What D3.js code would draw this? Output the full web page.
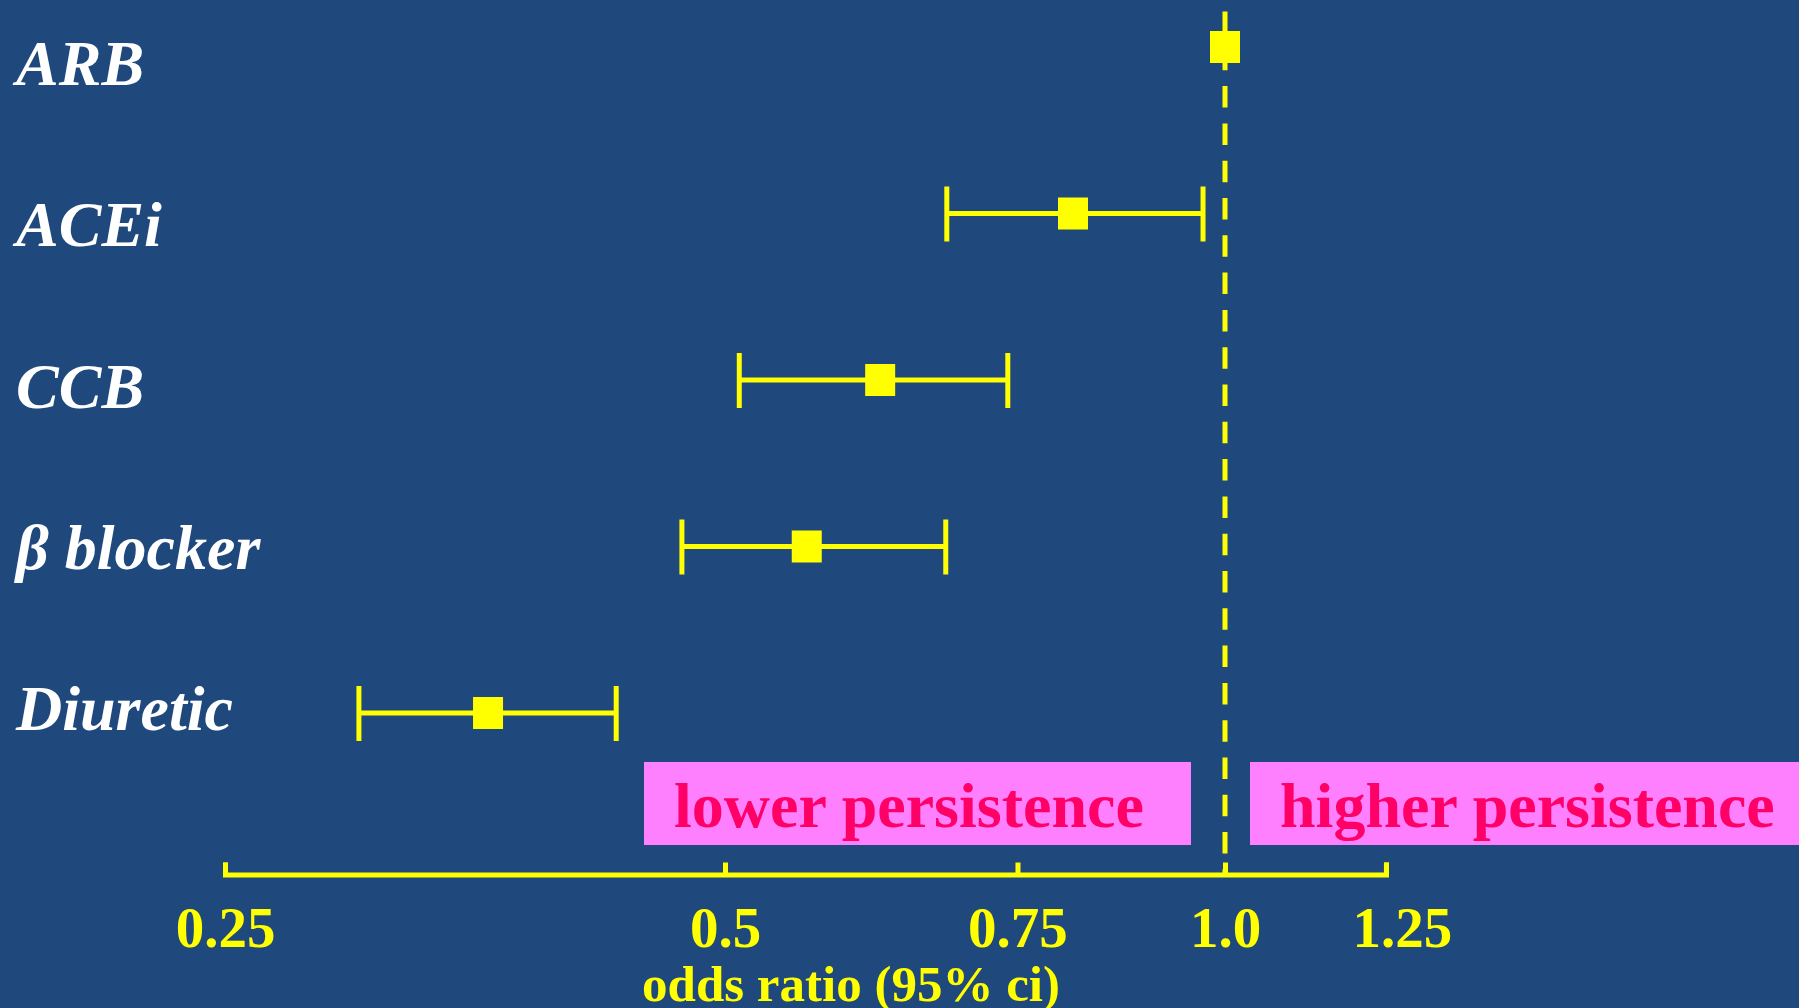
<!DOCTYPE html>
<html>
<head>
<meta charset="utf-8">
<script src="https://cdn.jsdelivr.net/npm/d3@7"></script>
<style>
  html, body { margin: 0; padding: 0; background: #1f497d; overflow: hidden; }
  svg { display: block; }
</style>
</head>
<body>
<svg id="chart" width="1799" height="1008"></svg>
<script>
// drug classes, top to bottom
var drugs = ["ARB", "ACEi", "CCB", "\u03b2 blocker", "Diuretic"];
// odds ratio and 95% ci (ARB is the reference)
var oddsRatio = [1.0, 0.81, 0.62, 0.56, 0.36];
var ciLow = [null, 0.68, 0.51, 0.471, 0.301];
var ciHigh = [null, 0.97, 0.74, 0.679, 0.43];
var tickValues = [0.25, 0.5, 0.75, 1.0, 1.25];
var tickLabels = ["0.25", "0.5", "0.75", "1.0", "1.25"];

var rows = drugs.map(function (d, i) {
    return { drug: d, or: oddsRatio[i], lo: ciLow[i], hi: ciHigh[i] };
});

var svg = d3.select("#chart");
var yellow = "#ffff00";
var serif = "'Liberation Serif', 'Times New Roman', serif";
var axisY = 874.5;

var x = d3.scaleLog()
    .domain([0.25, 1.25])
    .range([225, 225 + 1000 * Math.log(5) / Math.log(4)]);

// markers sit on one set of rows, labels on a slightly tighter one
var y = d3.scalePoint().domain(drugs).range([47, 713]);
var yLabel = d3.scalePoint().domain(drugs).range([85, 730]);

// reference line at 1.0
svg.append("line")
    .attr("x1", x(1)).attr("x2", x(1))
    .attr("y1", 11.5).attr("y2", axisY)
    .attr("stroke", yellow)
    .attr("stroke-width", 5)
    .attr("stroke-dasharray", "21.5 15.8");

// pink direction boxes
var boxes = [
    { text: "lower persistence", x0: 644, x1: 1191, tx: 674 },
    { text: "higher persistence", x0: 1250, x1: 1799, tx: 1280 }
];
svg.selectAll("rect.box")
    .data(boxes).enter()
    .append("rect")
    .attr("class", "box")
    .attr("x", function (d) { return d.x0; })
    .attr("y", 762)
    .attr("width", function (d) { return d.x1 - d.x0; })
    .attr("height", 83)
    .attr("fill", "#ff80ff");
svg.selectAll("text.box")
    .data(boxes).enter()
    .append("text")
    .attr("class", "box")
    .attr("x", function (d) { return d.tx; })
    .attr("y", 827)
    .attr("fill", "#ff0066")
    .style("font-family", serif)
    .style("font-weight", "bold")
    .style("font-size", "64px")
    .text(function (d) { return d.text; });

// the x axis, ticks pointing up and labels underneath
var axis = d3.axisBottom(x)
    .tickValues(tickValues)
    .tickFormat(function (d, i) { return tickLabels[i]; })
    .tickSizeInner(-12)
    .tickSizeOuter(-12)
    .tickPadding(32);

var gAxis = svg.append("g")
    .attr("transform", "translate(0," + axisY + ")")
    .call(axis);
gAxis.select(".domain")
    .attr("stroke", yellow)
    .attr("stroke-width", 5)
    .attr("fill", "none");
gAxis.selectAll(".tick line")
    .attr("stroke", yellow)
    .attr("stroke-width", 5);
gAxis.selectAll(".tick text")
    .attr("fill", yellow)
    .attr("dx", function (d, i) { return i === tickValues.length - 1 ? 16 : 0; })
    .style("font-family", serif)
    .style("font-weight", "bold")
    .style("font-size", "57px");

svg.append("text")
    .attr("x", 851)
    .attr("y", 1001)
    .attr("text-anchor", "middle")
    .attr("fill", yellow)
    .style("font-family", serif)
    .style("font-weight", "bold")
    .style("font-size", "51px")
    .text("odds ratio (95% ci)");

// confidence intervals
var ci = rows.filter(function (d) { return d.lo !== null; });
var gCi = svg.append("g")
    .attr("stroke", yellow)
    .attr("stroke-width", 5);
gCi.selectAll("line.span")
    .data(ci).enter()
    .append("line")
    .attr("x1", function (d) { return x(d.lo); })
    .attr("x2", function (d) { return x(d.hi); })
    .attr("y1", function (d) { return y(d.drug); })
    .attr("y2", function (d) { return y(d.drug); });
gCi.selectAll("line.lo")
    .data(ci).enter()
    .append("line")
    .attr("x1", function (d) { return x(d.lo); })
    .attr("x2", function (d) { return x(d.lo); })
    .attr("y1", function (d) { return y(d.drug) - 27; })
    .attr("y2", function (d) { return y(d.drug) + 28; });
gCi.selectAll("line.hi")
    .data(ci).enter()
    .append("line")
    .attr("x1", function (d) { return x(d.hi); })
    .attr("x2", function (d) { return x(d.hi); })
    .attr("y1", function (d) { return y(d.drug) - 27; })
    .attr("y2", function (d) { return y(d.drug) + 28; });

// point estimates
svg.selectAll("rect.pt")
    .data(rows).enter()
    .append("rect")
    .attr("class", "pt")
    .attr("x", function (d) { return x(d.or) - 15; })
    .attr("y", function (d) { return y(d.drug) - 16; })
    .attr("width", 30)
    .attr("height", 32)
    .attr("fill", yellow);

// drug labels
svg.selectAll("text.drug")
    .data(rows).enter()
    .append("text")
    .attr("class", "drug")
    .attr("x", 16)
    .attr("y", function (d) { return yLabel(d.drug); })
    .attr("fill", "#ffffff")
    .style("font-family", serif)
    .style("font-weight", "bold")
    .style("font-style", "italic")
    .style("font-size", "64px")
    .text(function (d) { return d.drug; });
</script>
</body>
</html>
